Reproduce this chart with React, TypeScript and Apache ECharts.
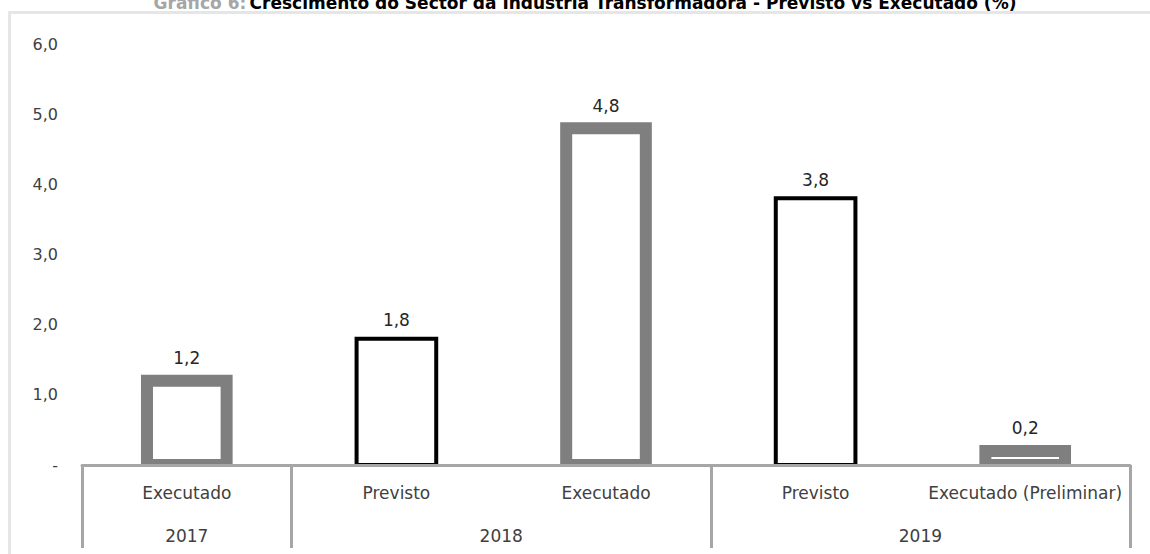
import React, { useEffect, useRef } from "react";
import * as echarts from "echarts";

const categories = ["Executado", "Previsto", "Executado", "Previsto", "Executado (Preliminar)"];
const kinds = ["exec", "prev", "exec", "prev", "exec"];
const values = [1.2, 1.8, 4.8, 3.8, 0.2];
const years = ["2017", "2018", "2019"];
const yearSpans = [1, 2, 2];
const yTicks = [0, 1, 2, 3, 4, 5, 6];

const titleGrey = "Gráfico 6:";
const titleMain = "Crescimento do Sector da Indústria Transformadora - Previsto vs Executado (%)";

const FONT = "'DejaVu Sans', Verdana, sans-serif";
const fmt = (v: number) => (v === 0 ? "-" : v.toFixed(1).replace(".", ","));

export default function App() {
  const ref = useRef<HTMLDivElement>(null);
  useEffect(() => {
    if (!ref.current) return;
    const chart = echarts.init(ref.current, null, { renderer: "svg" });

    const starts: number[] = [];
    const centers: number[] = [];
    let acc = 0;
    yearSpans.forEach((s) => {
      starts.push(acc);
      centers.push(acc + s / 2);
      acc += s;
    });

    const option: any = {
      animation: false,
      backgroundColor: "#ffffff",
      grid: { left: 82, right: 20, top: 44, bottom: 89 },
      graphic: [
        {
          type: "rect",
          z: -10,
          silent: true,
          shape: { x: 9.5, y: 12.5, width: 1200, height: 600 },
          style: { fill: "none", stroke: "#e6e6e6", lineWidth: 3 },
        },
        {
          type: "text",
          x: 585,
          y: 3,
          silent: true,
          style: {
            text: `{g|${titleGrey}} {b|${titleMain}}`,
            align: "center",
            verticalAlign: "middle",
            rich: {
              g: { fontFamily: FONT, fontSize: 17, fontWeight: "bold", fill: "#a6a6a6" },
              b: { fontFamily: FONT, fontSize: 17, fontWeight: "bold", fill: "#000000" },
            },
          },
        },
      ],
      xAxis: [
        {
          type: "category",
          data: categories,
          z: 10,
          axisLine: { show: true, lineStyle: { color: "#a6a6a6", width: 3 } },
          axisTick: {
            show: true,
            length: 83,
            interval: (index: number) => starts.includes(index),
            lineStyle: { color: "#a6a6a6", width: 3 },
          },
          axisLabel: {
            interval: 0,
            margin: 19,
            color: "#404040",
            fontSize: 17,
            fontFamily: FONT,
          },
          splitLine: { show: false },
        },
        {
          type: "value",
          min: 0,
          max: acc,
          interval: 0.5,
          position: "bottom",
          axisLine: { show: false },
          axisTick: { show: false },
          splitLine: { show: false },
          axisLabel: {
            margin: 62,
            color: "#404040",
            fontSize: 17,
            fontFamily: FONT,
            formatter: (v: number) => {
              const k = centers.findIndex((c) => Math.abs(c - v) < 1e-6);
              return k >= 0 ? years[k] : "";
            },
          },
        },
      ],
      yAxis: {
        type: "value",
        min: yTicks[0],
        max: yTicks[yTicks.length - 1],
        interval: 1,
        axisLine: { show: false },
        axisTick: { show: false },
        splitLine: { show: false },
        axisLabel: {
          margin: 24,
          color: "#404040",
          fontSize: 16,
          fontFamily: FONT,
          formatter: (v: number) => fmt(v),
        },
      },
      series: [
        {
          type: "custom",
          xAxisIndex: 0,
          yAxisIndex: 0,
          clip: true,
          data: values.map((v, i) => [i, v]),
          renderItem: (params: any, api: any) => {
            const i = api.value(0);
            const v = api.value(1);
            const top = api.coord([i, v]);
            const base = api.coord([i, 0]);
            const w = api.size([1, 0])[0] * 0.38;
            const exec = kinds[params.dataIndex] === "exec";
            return {
              type: "rect",
              shape: { x: top[0] - w / 2, y: top[1], width: w, height: base[1] - top[1] },
              style: {
                fill: "#ffffff",
                stroke: exec ? "#7f7f7f" : "#000000",
                lineWidth: exec ? 12 : 4,
              },
              textContent: {
                style: {
                  text: fmt(v),
                  fontFamily: FONT,
                  fontSize: 17,
                  fill: "#262626",
                },
              },
              textConfig: { position: "top", distance: 8 },
            };
          },
        },
      ],
    };
    chart.setOption(option);
    return () => chart.dispose();
  }, []);

  return (
    <div
      ref={ref}
      style={{ position: "absolute", left: 0, top: 0, width: 1150, height: 554, background: "#fff" }}
    />
  );
}
